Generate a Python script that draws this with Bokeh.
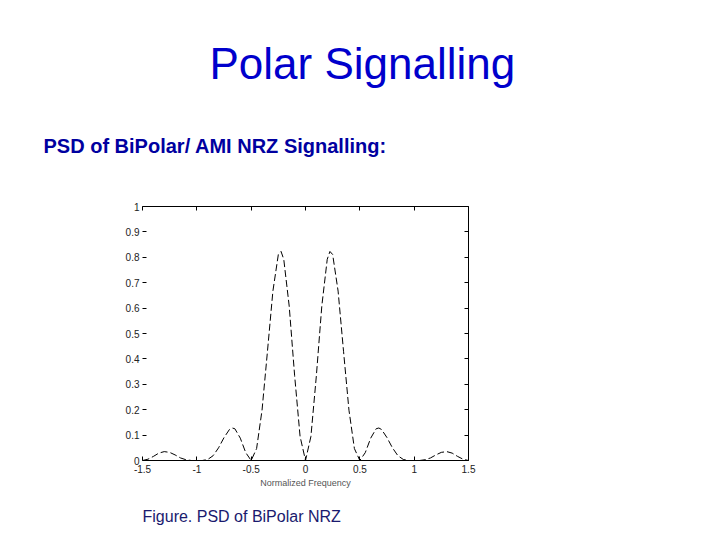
from bokeh.plotting import figure
from bokeh.models import LinearAxis, FixedTicker, Range1d, Title, CustomLabelingPolicy
from bokeh.embed import file_html
from bokeh.resources import INLINE

# ---- data (normalized frequency vs PSD) ----
freq = [-1.5, -1.45, -1.4, -1.35, -1.3, -1.25, -1.2, -1.15, -1.1, -1.05,
        -1.0, -0.95, -0.9, -0.85, -0.8, -0.75, -0.7, -0.675, -0.65, -0.6,
        -0.55, -0.5, -0.45, -0.4, -0.35, -0.3, -0.25, -0.225, -0.2, -0.15,
        -0.1, -0.05, 0.0, 0.05, 0.1, 0.15, 0.2, 0.225, 0.25, 0.3,
        0.35, 0.4, 0.45, 0.5, 0.55, 0.6, 0.65, 0.675, 0.7, 0.75,
        0.8, 0.85, 0.9, 0.95, 1.0, 1.05, 1.1, 1.15, 1.2, 1.25,
        1.3, 1.35, 1.4, 1.45, 1.5]
psd = [0.0, 0.005, 0.016, 0.029, 0.035, 0.032, 0.022, 0.010, 0.003, 0.0,
       0.0, 0.0, 0.004, 0.019, 0.050, 0.090, 0.122, 0.128, 0.125, 0.088,
       0.031, 0.0, 0.047, 0.198, 0.430, 0.667, 0.811, 0.823, 0.792, 0.608,
       0.334, 0.095, 0.0, 0.095, 0.334, 0.608, 0.792, 0.823, 0.811, 0.667,
       0.430, 0.198, 0.047, 0.0, 0.031, 0.088, 0.125, 0.128, 0.122, 0.090,
       0.050, 0.019, 0.004, 0.0, 0.0, 0.0, 0.003, 0.010, 0.022, 0.032,
       0.035, 0.029, 0.016, 0.005, 0.0]

x_ticks = [-1.5, -1.0, -0.5, 0.0, 0.5, 1.0, 1.5]
x_tick_labels = ["-1.5", "-1", "-0.5", "0", "0.5", "1", "1.5"]
y_ticks = [0.0, 0.1, 0.2, 0.3, 0.4, 0.5, 0.6, 0.7, 0.8, 0.9, 1.0]
y_tick_labels = ["0", "0.1", "0.2", "0.3", "0.4", "0.5", "0.6", "0.7", "0.8", "0.9", "1"]

title_text = "Polar Signalling"
subtitle_text = "PSD of BiPolar/ AMI NRZ Signalling:"
caption_text = "Figure. PSD of BiPolar NRZ"
x_label = "Normalized Frequency"

FONT = "Liberation Sans"

p = figure(width=720, height=540, output_backend="svg", toolbar_location=None,
           x_range=Range1d(-1.5, 1.5), y_range=Range1d(0, 1),
           min_border_left=142, min_border_right=252,
           min_border_top=206, min_border_bottom=79)
p.outline_line_color = None
p.grid.visible = False
p.background_fill_color = "white"
p.border_fill_color = "white"

p.line(freq, psd, line_color="black", line_width=1, line_dash="7 3")

# bottom axis
xa = p.xaxis[0]
xa.ticker = FixedTicker(ticks=x_ticks)
xa.major_label_overrides = {t: l for t, l in zip(x_ticks, x_tick_labels)}
xa.major_tick_in = 4
xa.major_tick_out = 0
xa.minor_tick_in = 0
xa.minor_tick_out = 0
xa.axis_line_color = "black"
xa.major_tick_line_color = "black"
xa.major_label_text_font = FONT
xa.major_label_text_font_size = "10px"
xa.major_label_text_color = "#222222"
xa.major_label_standoff = 4
xa.axis_label = x_label
xa.axis_label_text_font = FONT
xa.axis_label_text_font_style = "normal"
xa.axis_label_text_font_size = "9px"
xa.axis_label_text_color = "#555555"
xa.axis_label_standoff = 2

# left axis
ya = p.yaxis[0]
ya.ticker = FixedTicker(ticks=y_ticks)
ya.major_label_overrides = {t: l for t, l in zip(y_ticks, y_tick_labels)}
ya.major_tick_in = 4
ya.major_tick_out = 0
ya.minor_tick_in = 0
ya.minor_tick_out = 0
ya.axis_line_color = None
ya.major_tick_line_color = "black"
ya.major_label_text_font = FONT
ya.major_label_text_font_size = "10px"
ya.major_label_text_color = "#222222"
ya.major_label_standoff = 3

# right and top frame axes (ticks only, no labels)
ra = LinearAxis(ticker=FixedTicker(ticks=y_ticks),
                major_label_policy=CustomLabelingPolicy(code="for (const i of indices) indices.unset(i)"),
                major_tick_in=4, major_tick_out=0, minor_tick_in=0, minor_tick_out=0,
                axis_line_color="black", major_tick_line_color="black")
p.add_layout(ra, "right")
ta = LinearAxis(ticker=FixedTicker(ticks=x_ticks),
                major_label_policy=CustomLabelingPolicy(code="for (const i of indices) indices.unset(i)"),
                major_tick_in=4, major_tick_out=0, minor_tick_in=0, minor_tick_out=0,
                axis_line_color="black", major_tick_line_color="black")
p.add_layout(ta, "above")

# texts (stacked outward from the frame)
sub = Title(text=subtitle_text, align="left", offset=-99, standoff=68,
            text_font=FONT, text_font_size="20px", text_font_style="bold",
            text_color="#0000A0")
p.add_layout(sub, "above")
ttl = Title(text=title_text, align="left", offset=67, standoff=22,
            text_font=FONT, text_font_size="44px", text_font_style="normal",
            text_color="#0000CC")
p.add_layout(ttl, "above")
cap = Title(text=caption_text, align="left", offset=0, standoff=31,
            text_font=FONT, text_font_size="16px", text_font_style="normal",
            text_color="#1A1A6E")
p.add_layout(cap, "below")

open("out.html", "w").write(file_html(p, INLINE))
